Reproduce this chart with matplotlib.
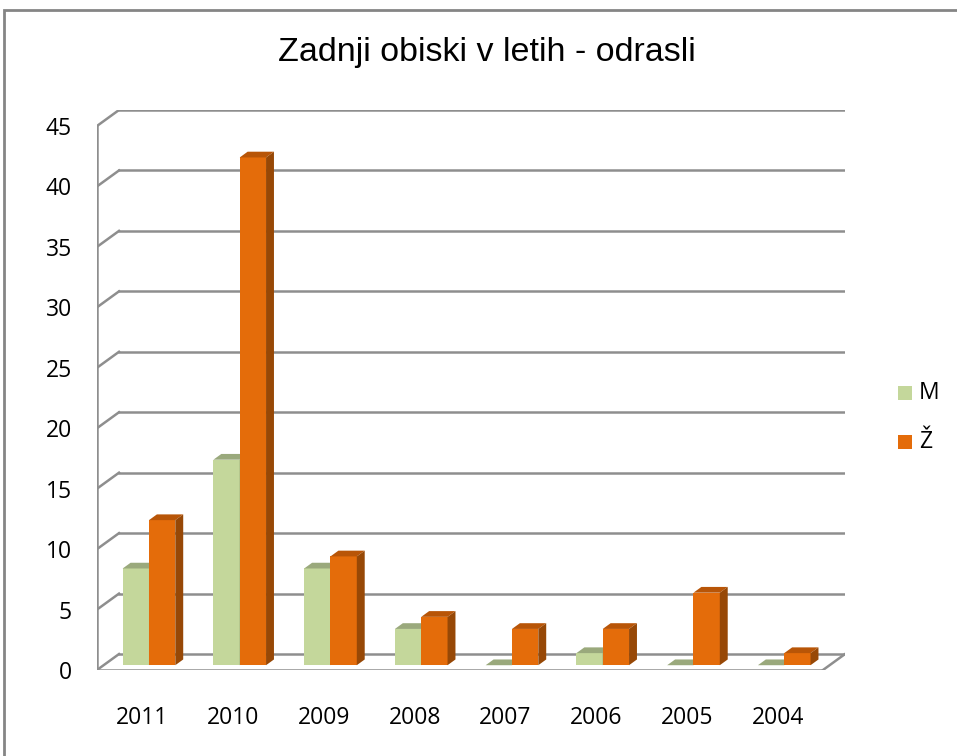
import matplotlib
matplotlib.use("Agg")
import matplotlib.pyplot as plt
from matplotlib.patches import Polygon, Rectangle

# podatki
leta = ['2011', '2010', '2009', '2008', '2007', '2006', '2005', '2004']
moski = [8, 17, 8, 3, 0, 1, 0, 0]
zenske = [12, 42, 9, 4, 3, 3, 6, 1]
y_oznake = [0, 5, 10, 15, 20, 25, 30, 35, 40, 45]

# barve (stil Excel 3D stolpcev)
zelena = {'spredaj': '#c4d79b', 'zgoraj': '#9aa97c', 'stran': '#8a9a6a'}
oranzna = {'spredaj': '#e46c0a', 'zgoraj': '#b85507', 'stran': '#974806'}
siva = '#8e8e8e'

# premik globine (v enotah podatkov)
DX = 0.2424
DY = 1.32
D0, D1 = 0.3, 0.66      # globina stolpcev
SIRINA = 0.29

W, H = 957, 756
fig = plt.figure(figsize=(W / 100, H / 100), dpi=100)
ax = fig.add_axes([97 / W, (H - 670) / H, 748 / W, 560 / H])
ax.set_xlim(0, len(leta) + DX)
ax.set_ylim(0, 45 + DY)
for s in ax.spines.values():
    s.set_visible(False)

n = len(leta)
# zadnja stena z mrezo in diagonalami na levi
for v in y_oznake:
    ax.plot([DX, n + DX], [v + DY, v + DY], color=siva, lw=1.8, zorder=1)
    ax.plot([0, DX], [v, v + DY], color=siva, lw=1.8, zorder=1)
# tla in os
ax.plot([0, n], [0, 0], color=siva, lw=1.8, zorder=1)
ax.plot([n, n + DX], [0, DY], color=siva, lw=1.8, zorder=1)
ax.plot([0, 0], [0, 45], color=siva, lw=1.8, zorder=1)


def stolpec(xl, v, barve):
    xr = xl + SIRINA
    ax.bar(xl + D0 * DX, v, bottom=D0 * DY, width=SIRINA, align='edge',
           color=barve['spredaj'], zorder=3, linewidth=0)
    vrh = [(xl + D0 * DX, v + D0 * DY), (xr + D0 * DX, v + D0 * DY),
           (xr + D1 * DX, v + D1 * DY), (xl + D1 * DX, v + D1 * DY)]
    ax.add_patch(Polygon(vrh, closed=True, facecolor=barve['zgoraj'],
                         edgecolor='none', zorder=3))
    if v > 0:
        stran = [(xr + D0 * DX, D0 * DY), (xr + D1 * DX, D1 * DY),
                 (xr + D1 * DX, v + D1 * DY), (xr + D0 * DX, v + D0 * DY)]
        ax.add_patch(Polygon(stran, closed=True, facecolor=barve['stran'],
                             edgecolor='none', zorder=3))


for i in range(n):
    stolpec(i + 0.5 - SIRINA, moski[i], zelena)
    stolpec(i + 0.5, zenske[i], oranzna)

ax.set_yticks(y_oznake)
ax.set_yticklabels([str(v) for v in y_oznake], fontsize=16.5, family='Open Sans')
ax.set_xticks([i + 0.5 for i in range(n)])
ax.set_xticklabels(leta, fontsize=16.5, family='Open Sans')
ax.tick_params(axis='y', length=0, pad=18)
ax.tick_params(axis='x', length=0, pad=26)

fig.text(487 / W, 1 - 52 / H, 'Zadnji obiski v letih - odrasli',
         ha='center', va='center', fontsize=24.5, fontweight='medium',
         family='Liberation Sans')

# legenda
for ime, barve, yc in [('M', zelena, 393), ('Ž', oranzna, 442)]:
    fig.patches.append(Rectangle((898 / W, 1 - (yc + 7) / H), 14 / W, 14 / H,
                                 transform=fig.transFigure,
                                 facecolor=barve['spredaj'], edgecolor='none'))
    fig.text(919 / W, 1 - yc / H, ime, ha='left', va='center',
             fontsize=16.5, family='Open Sans')

# okvir grafikona
fig.patches.append(Rectangle((4 / W, -0.1), 1.2, 1.1 - 10 / H,
                             transform=fig.transFigure, facecolor='none',
                             edgecolor='#858585', lw=2))

fig.savefig('out.png', dpi=100)
